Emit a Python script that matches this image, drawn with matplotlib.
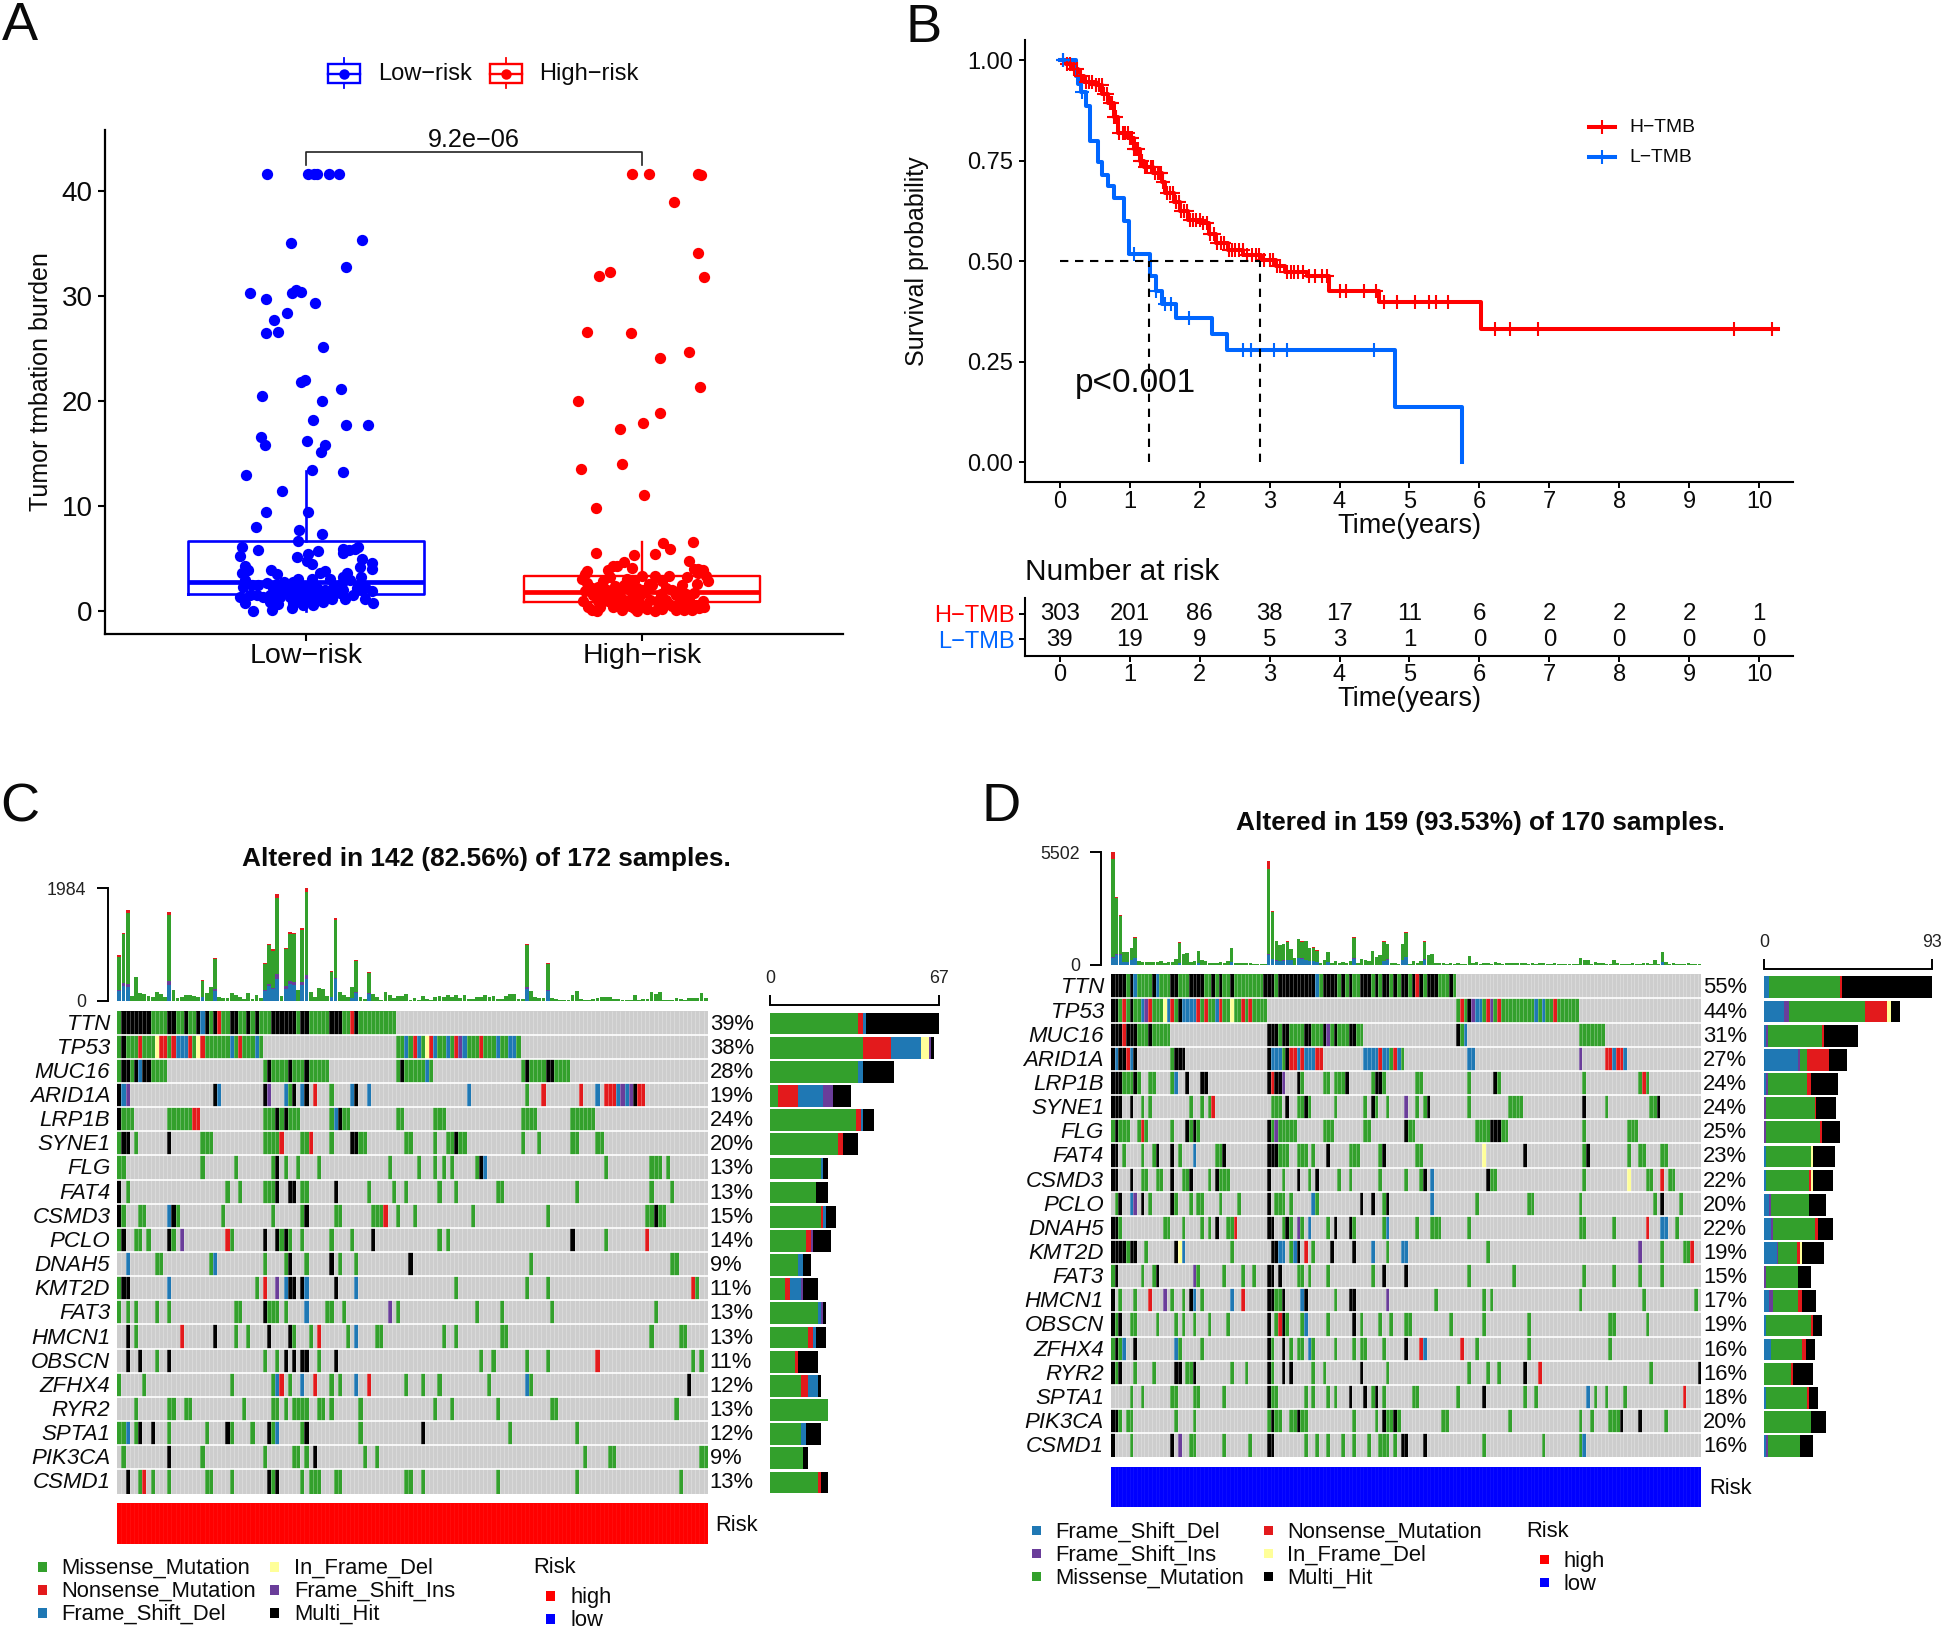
import numpy as np
import matplotlib
matplotlib.use('Agg')
import matplotlib.pyplot as plt
from matplotlib.colors import ListedColormap, BoundaryNorm
from matplotlib.patches import Rectangle

plt.rcParams['font.family'] = ['Liberation Sans', 'DejaVu Sans']

W, H = 1944, 1629
MINUS = '\u2212'

# ---- panel A data
box_low = dict(med=2.76, q1=1.65, q3=6.63, whislo=0.0, whishi=13.3, fliers=[])
box_high = dict(med=1.8, q1=0.85, q3=3.3, whislo=0.0, whishi=6.6, fliers=[])
low_pts = [(.884, 41.6), (1.007, 41.6), (1.024, 41.6), (1.032, 41.6), (1.068, 41.6), (1.097, 41.6), (1.167, 35.3),
           (.954, 35.0), (1.12, 32.8), (.834, 30.3), (.882, 29.7), (.959, 30.3), (.971, 30.6), (.985, 30.4),
           (1.026, 29.3), (.945, 28.4), (.904, 27.7), (.882, 26.5), (.918, 26.6), (1.051, 25.1), (.997, 22.0),
           (.986, 21.8), (1.103, 21.1), (.870, 20.5), (1.048, 20.0), (1.022, 18.2), (1.12, 17.7), (1.186, 17.7),
           (.867, 16.6), (1.002, 16.2), (.879, 15.8), (1.058, 15.8), (1.044, 15.1), (1.019, 13.4), (1.111, 13.2),
           (.821, 13.0), (.93, 11.4), (.882, 9.4), (1.007, 9.4), (.851, 8.0), (.98, 7.7), (1.048, 7.3), (.976, 6.7),
           (.809, 6.06), (.805, 5.27), (.856, 5.81), (.974, 5.14), (1.007, 5.43), (1.035, 5.71), (1.002, 4.76),
           (1.019, 4.48), (.818, 4.29), (.809, 3.65), (.828, 3.90), (.895, 3.90), (.913, 3.52), (1.042, 3.59),
           (1.057, 3.84), (1.111, 5.90), (1.109, 5.56), (1.129, 5.81), (1.146, 5.87), (1.156, 6.06), (1.166, 4.95),
           (1.195, 4.60), (1.197, 3.97), (1.161, 4.22), (1.123, 3.59), (1.111, 3.27), (1.164, 3.27), (1.071, 3.05),
           (1.017, 3.02), (.977, 3.05), (.962, 2.79), (.935, 2.79), (.913, 2.57), (.883, 2.63), (.858, 2.48),
           (.838, 2.44), (.818, 2.95), (.812, 2.32), (.804, 1.30), (.818, .79), (.843, .03), (.898, .10), (.918, .67),
           (.893, .89), (.959, .32), (.992, .57), (1.022, .57), (1.052, .89), (1.076, 1.11), (1.116, 1.11),
           (1.141, 1.52), (1.176, 1.11), (1.198, .79), (1.195, 1.94), (1.166, 2.0), (1.151, 2.16), (1.111, 2.0),
           (1.081, 2.16), (1.057, 2.0), (1.032, 2.16), (1.007, 2.32), (.982, 2.16), (.952, 2.16), (.928, 2.0),
           (.903, 2.16), (.873, 1.37), (.853, 1.52), (.833, 1.52), (.893, 1.52), (.913, 1.52), (.952, 1.37),
           (.972, 1.37), (.987, 1.21), (1.012, 1.37), (1.037, 1.37), (1.062, 1.52), (.962, .73), (.982, .89),
           (1.002, 1.05), (1.027, 1.05), (.992, 1.84), (1.017, 1.68), (.972, 1.84), (.942, 1.75), (.923, 1.37),
           (1.106, 2.63), (1.101, 1.68), (1.131, 2.95), (1.176, 2.25)]
high_pts = [(1.969, 41.6), (2.02, 41.6), (2.167, 41.6), (2.174, 41.5), (2.096, 38.9), (2.166, 34.1), (2.183, 31.8),
            (1.904, 32.3), (1.872, 31.9), (1.836, 26.6), (1.968, 26.5), (2.14, 24.7), (2.053, 24.1), (2.173, 21.3),
            (1.809, 20.0), (2.053, 18.9), (2.002, 17.9), (1.935, 17.3), (1.94, 14.0), (1.817, 13.5), (2.005, 11.1),
            (1.862, 9.8), (2.152, 6.6), (2.063, 6.5), (2.082, 5.9), (1.862, 5.5), (1.976, 5.3), (2.038, 5.4),
            (1.947, 4.7), (2.14, 4.8), (1.913, 4.3), (1.925, 4.25), (1.969, 4.1), (2.166, 4.0), (1.90, 3.9),
            (1.835, 3.8), (1.83, 3.55), (1.82, 3.05), (1.835, 2.7), (1.85, 2.2), (1.83, 1.9), (1.825, 1.0), (1.84, .4),
            (1.85, .1), (1.865, .05), (1.875, .4), (1.88, 1.3), (1.87, 2.3), (1.885, 2.9), (1.905, 3.2), (1.895, 2.0),
            (1.90, 1.0), (1.915, .35), (1.925, .7), (1.94, .1), (1.93, 1.6), (1.945, 2.5), (1.955, 3.1), (1.965, 2.2),
            (1.96, 1.0), (1.975, .3), (1.985, .05), (1.99, 1.3), (1.975, 2.9), (2.0, 3.3), (2.0, .6), (2.01, 1.8),
            (2.015, .2), (2.025, 1.1), (2.03, 2.5), (2.038, 3.3), (2.04, .0), (2.05, .55), (2.055, 1.6), (2.06, .2),
            (2.07, 1.1), (2.07, 2.2), (2.08, 3.3), (2.09, .5), (2.1, 1.5), (2.10, .1), (2.115, .9), (2.12, 2.5),
            (2.125, .15), (2.135, .45), (2.14, 1.1), (2.135, 3.2), (2.15, .15), (2.155, 1.7), (2.16, .6), (2.165, 2.6),
            (2.17, .3), (2.18, 1.0), (2.185, .35), (2.19, 3.3), (2.195, 2.85), (2.167, 3.6), (2.18, 3.95), (2.155, 4.0),
            (1.97, 1.7), (1.95, .55), (1.92, 2.4), (1.98, .85), (1.91, 1.4), (1.935, 2.0), (2.02, 2.6), (2.045, 1.0),
            (2.08, .7), (2.11, 1.9), (2.145, .7), (1.87, 1.0), (1.855, 1.5), (1.985, 2.2), (2.0, 2.0), (2.06, 2.9),
            (2.09, 2.0), (2.13, 1.6), (1.945, 1.1), (1.965, .5)]

# ---- panel B data
h_time = [0, .086, .172, .258, .344, .516, .602, .688, .775, .835, .972, 1.059, 1.145, 1.205, 1.334, 1.463, 1.506,
          1.635, 1.721, 1.833, 2.022, 2.134, 2.238, 2.41, 2.625, 2.883, 3.098, 3.227, 3.528, 3.847, 4.561, 6.024, 10.267]
h_surv = [1.0, .99, .978, .961, .946, .938, .915, .893, .858, .818, .807, .778, .75, .733, .718, .698, .67,
          .647, .624, .603, .595, .567, .544, .527, .515, .504, .487, .473, .464, .427, .398, .331, .331]
l_time = [0, .232, .26, .30, .37, .43, .54, .60, .69, .775, .92, .99, 1.29, 1.31, 1.377, 1.463, 1.66, 2.177, 2.384,
          4.793, 5.749, 5.749]
l_surv = [1.0, .961, .94, .921, .887, .80, .747, .715, .687, .658, .601, .519, .464, .464, .427, .393, .358, .319, .278,
          .138, .0, .0]
h_cens = [.05, .1, .14, .2, .24, .3, .37, .42, .46, .52, .56, .6, .63, .67, .72, .74, .78, .8, .85, .9, .93, .97, 1.0,
          1.03, 1.06, 1.09, 1.12, 1.15, 1.18, 1.22, 1.25, 1.3, 1.33, 1.36, 1.4, 1.43, 1.45, 1.48, 1.53, 1.58, 1.62, 1.66,
          1.7, 1.74, 1.78, 1.82, 1.86, 1.9, 1.95, 2.0, 2.05, 2.1, 2.15, 2.2, 2.25, 2.3, 2.35, 2.42, 2.46, 2.5, 2.56, 2.62,
          2.68, 2.75, 2.8, 2.85, 2.92, 3.0, 3.05, 3.1, 3.15, 3.25, 3.3, 3.35, 3.4, 3.48, 3.57, 3.65, 3.75, 3.82, 4.0,
          4.09, 4.35, 4.52, 4.64, 4.82, 5.08, 5.28, 5.38, 5.55, 6.22, 6.44, 6.84, 9.64, 10.18]
l_cens = [.04, .32, 1.06, 1.38, 1.5, 1.59, 1.85, 2.62, 2.74, 3.07, 3.25, 4.5]
years = list(range(11))
risk_h = [303, 201, 86, 38, 17, 11, 6, 2, 2, 2, 1]
risk_l = [39, 19, 9, 5, 3, 1, 0, 0, 0, 0, 0]

# ---- panels C and D data
genes = ['TTN', 'TP53', 'MUC16', 'ARID1A', 'LRP1B', 'SYNE1', 'FLG', 'FAT4', 'CSMD3', 'PCLO',
         'DNAH5', 'KMT2D', 'FAT3', 'HMCN1', 'OBSCN', 'ZFHX4', 'RYR2', 'SPTA1', 'PIK3CA', 'CSMD1']
pct_c = [39, 38, 28, 19, 24, 20, 13, 13, 15, 14, 9, 11, 13, 13, 11, 12, 13, 12, 9, 13]
pct_d = [55, 44, 31, 27, 24, 24, 25, 23, 22, 20, 22, 19, 15, 17, 19, 16, 16, 18, 20, 16]

# sample columns per gene: M missense, N nonsense, D frame del, Y in frame del, F frame ins, H multi hit
rows_c = [
    "0M 1-7H 8-11M 12-13H 14-15M 16H 17-18M 19H 20D 21H 22M 23H 24N 25-26M 27-28H 29-30M 31H 32M 33H 34-36M 37-42H 43M 44-45H 46-50M 51-53H 54-55M 56N 57H 58-66M",
    "0M 1H 2-4M 5N 6-8M 9Y 10-11N 12M 13N 14-16D 17N 18M 19Y 20N 21-26M 27D 28M 29N 30-32M 33D 34M 67-68M 69D 70M 71N 72D 73M 74Y 75N 76D 77-78M 79D 80M 81N 82F 83D 84-86M 87N 88-90M 91D 92-93M 94-95D 96M",
    "0M 1-2H 3M 4H 5D 6-7H 8-11M 35M 36H 37-40M 41H 42-44M 45H 46-50M 67M 68H 69-73M 74D 75M 97M 98H 99-102M 103-104H 105-108M",
    "0H 1D 2F 23H 24D 35H 36F 40D 41M 42H 44D 45H 47N 51M 56D 57H 60D 84D 98M 102N 111N 115D 117-119N 120D 121F 122D 123F 124H 125-126N",
    "0H 1-3M 12-17M 18-19N 35-37M 38H 39M 40H 41-43M 51M 52D 53H 54-55M 67-68M 76-78M 97-100M 109-114M",
    "0M 1-2H 4M 12H 20-22M 35-38M 39N 44-45M 46N 51M 56-57H 58-59M 69-70M 76M 79-80M 81H 82-83M 97M 101M 109-110M 115-116M",
    "0-1M 20M 28M 37M 38H 40M 43M 48M 65M 72M 76M 78M 80M 86M 87H 88D 117M 128-130M 132M",
    "0H 2M 26M 29M 35-37M 38H 41-42H 44-45M 52H 60M 66M 69M 77M 81M 91-92M 110M 128M 133M",
    "0H 1M 5-6M 12D 13H 14M 25M 37M 44M 45H 52-53M 61-63M 64N 67M 71M 85M 103M 127-128M 129H 130-131M",
    "0M 1H 4-5M 7M 12H 13M 15F 26N 27M 35H 38H 39M 40H 41M 44M 51M 56M 61H 77M 79M 109H 117M 127N",
    "2D 9-10M 22M 23D 35M 40M 41H 45M 51H 53M 57M 70H 99M 133-134M",
    "0M 1-2H 12D 33M 35N 38F 40D 41-42H 44H 45D 52H 57D 81M 98M 103M 138N 139M",
    "0M 2M 4M 9M 12M 28-29M 35H 36-38M 40M 45D 50-51M 54M 65F 67M 86M 92M 104M 129M",
    "2H 4M 15N 23H 28M 31M 36H 41H 42M 46M 48N 55M 57D 62-63M 78M 81M 92-93M 128M 135-136M",
    "2H 5H 9M 12H 35M 38M 40H 42H 44-45H 48M 52H 87M 90M 98M 103M 115N 138M 140M",
    "0M 6M 27M 37M 38D 39N 41M 44D 47N 51M 53M 57D 60N 69M 73M 77M 89M 98D 99M 137H",
    "4M 12-13M 16-17M 30M 37-38M 40M 42-45M 48-49M 51M 58M 76M 80M 91M 104-105M 134M",
    "0-1M 2D 4M 5H 8H 12M 21M 26H 27M 32M 36H 37M 38D 44M 45H 58M 73H 94M 110M",
    "1M 12H 20M 35M 42-43M 45M 47H 59M 62M 112M 118-119M 140-141M",
    "2H 5M 6N 8M 12M 21-22M 27M 36H 37M 38H 44M 46-48M 52-53M 69-70M 73M 91M 110M 135M",
]
rows_d = [
    "0-3H 4M 5H 6D 7-10M 11H 12D 13-15M 16-17H 18-20M 21-24H 25-26M 27H 28M 29H 30-31M 32H 33-40M 41-43H 44M 45-54H 55D 56M 57-60H 61M 62H 63M 64H 65-66M 67-69H 70M 71H 72M 73-74H 75M 76H 77M 78-79H 80M 81H 82N 83H 84M 85-87H 88-90M 91H 92M",
    "0-1H 2M 3N 4M 5H 6-7M 8D 9F 10N 11-13M 14Y 15D 16N 17M 18H 19-22D 23N 24M 25N 26-27M 28D 29N 30-31M 32Y 33-34M 35N 36M 37N 38-41M 93M 94N 95M 96H 97F 98-99D 100M 101N 102F 103M 104N 105-113M 114D 115M 116D 117-118M 119N 120-125M",
    "0-2H 3N 4-6H 7-9M 10H 11-15M 42-44H 45M 46-47H 48-51M 52-53H 54-56M 57H 58F 59M 60H 61-63M 64-65H 66-67M 93H 94M 95D 126-132M",
    "0H 1D 2-3H 4N 5D 6H 16M 17-19H 42H 43-45D 46M 47H 48-49N 50D 51N 52-54D 55-56N 68-71D 72N 73-74D 75M 76N 77D 78M 96-97D 126F 133-134N 135D 136-137N 138D",
    "0-2H 3-5M 6H 7M 10-11M 16M 17D 20H 24-25H 42H 43N 44-45H 46F 50H 51M 57-58M 60-62M 63H 70M 71-72H 73M 82-83M 96M 103H 104M 127M 142M 143N 144M",
    "0-2H 5H 8M 10M 21M 24M 26M 27N 43-45M 47H 50-51M 52H 53M 60M 68M 70H 71M 74M 79F 82M 84M 85H 96M 107-110M 127H 133M 145-146M 147H",
    "0M 1H 2-4M 7M 8N 9M 16M 20H 21M 22H 23M 42H 43M 44F 45-49M 57-59M 68-69M 79H 80-81M 98-101M 102-104H 105-106M 127M 139-141M",
    "0-1H 3M 8M 11M 12H 16H 18M 22D 28-29M 30H 42-44H 45-47M 50-52M 54M 58H 64-66M 72M 73H 82-83M 100Y 111H 127M 128H 139M 142-143M 148-149M",
    "0-1H 5H 8-9M 12-13M 16H 19-20M 21H 26M 28H 29-31M 42H 46M 50H 53M 55H 61M 64M 72M 79M 83M 84H 86D 101H 102-103M 127M 139Y 144-145M 148N 150-151M",
    "1M 2H 5D 6F 8H 10M 16H 17M 21M 23-24M 29M 34M 42H 44-46M 48M 54D 55M 67H 70H 73M 74H 86D 98M 112-113M 126M 146M 148H 153M",
    "0-1H 2M 14-15M 19M 24M 26M 28H 31-32M 33N 42-43H 46M 47H 48M 50F 51M 53D 58M 60H 64H 65M 73M 74D 82M 86-88M 96M 126-127M 135M 144N 148-149D 152M",
    "0-3H 4M 5-6H 9M 17H 18Y 19D 32M 43-44H 45-46D 48M 49D 50H 52N 54M 59H 65H 70D 74M 78-79D 101M 142F 148M 154-155M 156N",
    "0M 1H 8M 11M 12H 22F 23M 30M 35M 38M 42-43H 45H 50-51M 53M 58M 70M 73H 79H 96M 108M 127M 135M 142M 148M",
    "0H 2M 6M 10N 14F 16M 19M 21H 22D 24M 32D 35N 42-43H 44-45M 46H 51D 52H 60M 64-65H 74F 87M 100M 102M 126M 143M 157M",
    "0H 1M 2H 5-6M 12M 17M 19M 22M 26M 31M 42H 44M 45N 46H 47M 51M 52D 58M 65H 67M 72M 75M 79-80M 91M 100M 112M 134-135M 144M",
    "0M 1H 2M 3D 6H 17D 18M 24M 42H 43M 46H 48M 50-51M 53D 54M 60M 65M 67-68M 73M 79H 83N 84D 94N 98M 112M 134M",
    "0H 1M 2H 6M 11M 17-18H 20-21M 22H 32M 36M 42H 43M 46H 48H 54M 57M 67H 74M 96M 101M 104M 111H 115N 145M 158H",
    "5M 8M 16-17M 22-23M 30M 42H 43-44M 52M 54M 58M 60M 64H 68H 70M 71H 73M 81-82M 93M 100H 111M 114M 128D 130M 133M 138M 154N",
    "0-1H 2M 4-5M 17M 22M 42M 43H 44-45M 48-49M 50H 51-52M 65M 71M 73H 74-75M 76H 77M 89-90M 107M 126M 129M 134-136M 137H 142H 149M",
    "0H 5M 16H 18F 21-22M 30M 37M 42-43H 52M 55M 58M 62M 65M 69M 72-74M 76M 78-79H 84H 100M 116M 126M 127D",
]

# stacked side bars, counts per mutation class
side_c = dict(
    M=[35, 37, 35, 3, 34, 27, 20, 18, 20, 14, 11, 6, 19, 15, 10, 12, 23, 12, 13, 19],
    N=[2, 11, 0, 8, 2, 2, 0, 0, 1, 2, 0, 2, 0, 2, 1, 3, 0, 0, 0, 1],
    D=[1, 12, 2, 10, 1, 0, 1, 0, 1, 0, 2, 4, 1, 1, 0, 4, 0, 2, 0, 0],
    Y=[0, 3, 0, 0, 0, 0, 0, 0, 0, 0, 0, 0, 0, 0, 0, 0, 0, 0, 0, 0],
    F=[0, 1, 0, 4, 0, 0, 0, 0, 0, 1, 0, 1, 1, 0, 0, 0, 0, 0, 0, 0],
    H=[29, 1, 12, 7, 4, 6, 2, 5, 4, 7, 3, 6, 1, 4, 8, 1, 0, 6, 2, 3],
)
side_d = dict(
    D=[3, 11, 1, 19, 1, 0, 0, 1, 1, 3, 4, 7, 0, 3, 1, 4, 0, 1, 0, 1],
    F=[0, 3, 1, 1, 1, 1, 1, 0, 0, 1, 1, 1, 1, 2, 0, 0, 0, 0, 0, 1],
    M=[39, 42, 30, 4, 22, 27, 30, 25, 24, 21, 23, 10, 18, 14, 25, 17, 15, 23, 26, 18],
    N=[1, 12, 1, 12, 2, 1, 1, 0, 1, 0, 2, 2, 0, 2, 1, 2, 1, 1, 0, 0],
    Y=[0, 2, 0, 0, 0, 0, 0, 1, 1, 0, 0, 1, 0, 0, 0, 0, 0, 0, 0, 0],
    H=[50, 5, 19, 10, 15, 11, 10, 12, 11, 9, 8, 12, 7, 8, 5, 5, 11, 5, 8, 7],
)
order_c = ['M', 'N', 'D', 'Y', 'F', 'H']
order_d = ['D', 'F', 'M', 'N', 'Y', 'H']

# mutation load per sample (top bars)
load_c = [804, 1203, 1608, 88, 411, 129, 117, 82, 59, 147, 117, 70, 1573, 194, 47, 70, 100, 106, 82, 70, 364, 129, 247,
          751, 59, 47, 47, 141, 100, 70, 35, 141, 35, 100, 41, 669, 1004, 910, 1878, 88, 933, 1221, 1203, 194, 1285, 1984,
          158, 59, 223, 205, 82, 528, 1468, 147, 106, 70, 247, 716, 59, 35, 505, 117, 59, 18, 147, 106, 47, 76, 76, 117,
          18, 47, 12, 76, 35, 18, 70, 82, 59, 94, 59, 100, 53, 106, 35, 24, 70, 70, 94, 59, 76, 24, 35, 82, 117, 117, 35,
          35, 998, 176, 59, 47, 47, 657, 47, 24, 18, 18, 12, 106, 176, 24, 18, 6, 29, 41, 59, 59, 59, 24, 24, 12, 6, 6,
          94, 18, 24, 35, 147, 117, 153, 12, 6, 6, 41, 24, 6, 41, 47, 41, 129, 41]
spike_c = [0, 1, 2, 12, 20, 23, 35, 36, 37, 38, 40, 41, 42, 44, 45, 51, 52, 56, 57, 60, 98, 103]
spike_c_del = [164, 264, 235, 282, 59, 176, 164, 264, 205, 382, 205, 294, 282, 282, 382, 70, 382, 47, 129, 117, 205, 164]
spike_c_ins = [23, 47, 59, 59, 0, 29, 23, 23, 23, 88, 47, 59, 47, 47, 70, 0, 18, 0, 18, 18, 29, 29]
spike_c_non = [35, 29, 59, 59, 18, 23, 18, 23, 29, 70, 23, 35, 23, 35, 59, 18, 35, 0, 23, 18, 18, 12]

load_d = [5502, 3305, 2442, 602, 602, 814, 1351, 195, 147, 130, 130, 130, 114, 195, 81, 147, 147, 260, 1091, 521, 586,
          147, 195, 684, 212, 163, 98, 65, 65, 130, 65, 195, 814, 65, 65, 65, 65, 65, 33, 33, 49, 49, 5079, 2637, 1172,
          977, 1009, 1140, 765, 326, 1270, 1140, 1172, 814, 847, 700, 81, 228, 619, 81, 195, 81, 114, 98, 195, 1335, 65,
          260, 228, 195, 651, 391, 488, 1140, 1009, 65, 98, 49, 1026, 1595, 49, 195, 81, 163, 1140, 456, 521, 98, 81, 98,
          49, 81, 49, 65, 49, 49, 440, 65, 130, 49, 81, 65, 49, 114, 65, 49, 81, 65, 98, 65, 81, 98, 49, 65, 49, 81, 65,
          49, 33, 65, 33, 33, 49, 49, 33, 49, 326, 244, 228, 49, 114, 65, 65, 49, 33, 228, 98, 49, 33, 49, 65, 33, 49, 65,
          65, 33, 212, 49, 619, 114, 49, 65, 49, 33, 49, 65, 33, 33, 33]
spike_d = [0, 1, 2, 3, 4, 5, 6, 18, 23, 32, 42, 43, 44, 45, 46, 47, 48, 50, 51, 52, 53, 54, 55, 58, 65, 73, 74, 78, 79, 84, 148]
spike_d_del = [326, 456, 488, 114, 130, 228, 326, 81, 81, 130, 456, 260, 195, 195, 195, 228, 228, 326, 293, 228, 163, 195,
               130, 130, 293, 163, 244, 228, 358, 244, 130]
spike_d_ins = [65, 65, 49, 0, 0, 16, 16, 0, 0, 0, 49, 16, 16, 0, 16, 16, 16, 16, 16, 0, 16, 0, 0, 0, 16, 16, 16, 16, 16, 16, 0]
spike_d_non = [358, 49, 49, 0, 0, 16, 49, 16, 16, 16, 423, 49, 16, 16, 16, 16, 16, 16, 16, 16, 16, 16, 16, 0, 33, 16, 16, 16, 49, 16, 16]

mut_classes = ['M', 'N', 'D', 'Y', 'F', 'H']
mut_color = dict(M='#33A02C', N='#E31A1C', D='#1F78B4', Y='#FFFF99', F='#6A3D9A', H='#000000')
grey = '#CDCDCD'
mut_name = dict(M='Missense_Mutation', N='Nonsense_Mutation', D='Frame_Shift_Del', Y='In_Frame_Del',
                F='Frame_Shift_Ins', H='Multi_Hit')
INK = '#0A0A0A'


def px_axes(x0, y0, x1, y1):
    return fig.add_axes([x0 / W, 1 - y1 / H, (x1 - x0) / W, (y1 - y0) / H])


def parse_rows(rows, n):
    mat = np.zeros((len(rows), n), dtype=int)
    for r, row in enumerate(rows):
        for tok in row.split():
            code = mut_classes.index(tok[-1]) + 1
            parts = tok[:-1].split('-')
            a, b = int(parts[0]), int(parts[-1])
            mat[r, a:b + 1] = code
    return mat


def oncoplot(x0, x1, top_y0, top_y1, grid_y0, grid_y1, risk_y0, risk_y1, bar_x0, bar_x1, bar_axis_gap,
             rows, load, spike, s_del, s_ins, s_non, load_max, side, order, bar_max, pct, risk_color):
    n = len(load)
    # top stacked bars
    ax = px_axes(x0, top_y0, x1, top_y1)
    load = np.array(load, float)
    dele = np.zeros(n)
    ins = np.zeros(n)
    non = np.zeros(n)
    dele[spike] = s_del
    ins[spike] = s_ins
    non[spike] = s_non
    mis = np.maximum(load - dele - ins - non, 0)
    xs = np.arange(n) + 0.5
    bot = np.zeros(n)
    for vals, c in [(dele, 'D'), (ins, 'F'), (mis, 'M'), (non, 'N')]:
        ax.bar(xs, vals, bottom=bot, width=0.92, color=mut_color[c], linewidth=0)
        bot = bot + vals
    ax.set_xlim(0, n)
    ax.set_ylim(0, load_max)
    for s in ['top', 'right', 'bottom']:
        ax.spines[s].set_visible(False)
    ax.spines['left'].set_position(('outward', 7))
    ax.spines['left'].set_linewidth(1.4)
    ax.set_xticks([])
    ax.set_yticks([0, load_max])
    ax.tick_params(axis='y', length=8.2, width=1.4, pad=7, labelsize=12.8, labelcolor='#222222')

    # mutation grid
    ax = px_axes(x0, grid_y0, x1, grid_y1)
    mat = parse_rows(rows, n)
    cmap = ListedColormap([grey] + [mut_color[c] for c in mut_classes])
    norm = BoundaryNorm(np.arange(-0.5, 7.5), cmap.N)
    ax.pcolormesh(np.arange(n + 1), np.arange(21), mat, cmap=cmap, norm=norm, linewidth=0)
    ax.vlines(np.arange(1, n), 0, 20, color='white', lw=0.6, alpha=0.3)
    ax.hlines(np.arange(1, 20), 0, n, color='white', lw=1.2)
    ax.set_xlim(0, n)
    ax.set_ylim(20, 0)
    ax.axis('off')

    # labels either side of the grid
    row_h = (grid_y1 - grid_y0) / 20
    for i, g in enumerate(genes):
        y = grid_y0 + (i + 0.5) * row_h + 1.5
        txt.text(x0 - 7, y, g, ha='right', va='center', style='italic', fontsize=16, color=INK)
        txt.text(x1 + 2, y, f'{pct[i]}%', ha='left', va='center', fontsize=15.8, color=INK)

    # side stacked bars
    ax = px_axes(bar_x0, grid_y0, bar_x1, grid_y1)
    left = np.zeros(20)
    ys = np.arange(20) + 0.54
    for c in order:
        ax.barh(ys, side[c], left=left, height=0.9, color=mut_color[c], linewidth=0)
        left = left + np.array(side[c])
    ax.set_xlim(0, bar_max)
    ax.set_ylim(20, 0)
    for s in ['left', 'right', 'bottom']:
        ax.spines[s].set_visible(False)
    ax.spines['top'].set_position(('outward', bar_axis_gap))
    ax.spines['top'].set_linewidth(1.4)
    ax.set_yticks([])
    ax.xaxis.tick_top()
    ax.set_xticks([0, bar_max])
    ax.tick_params(axis='x', length=7, width=1.4, pad=6, labelsize=12.8, labelcolor='#222222')

    # risk ribbon
    ax = px_axes(x0, risk_y0, x1, risk_y1)
    ax.bar(xs, np.ones(n), width=1.0, color=risk_color, linewidth=0)
    ax.vlines(np.arange(1, n), 0, 1, color='white', lw=0.5, alpha=0.07)
    ax.set_xlim(0, n)
    ax.set_ylim(0, 1)
    ax.axis('off')
    txt.text(x1 + 8, (risk_y0 + risk_y1) / 2 + 1.5, 'Risk', ha='left', va='center', fontsize=15.8, color=INK)


def legend_square(x, y, color):
    txt.add_patch(Rectangle((x, y - 4.7), 9.4, 9.4, facecolor=color, edgecolor='none'))


def legend_text(x, y, label):
    txt.text(x, y + 1.5, label, fontsize=15.8, ha='left', va='center', color=INK)


fig = plt.figure(figsize=(W / 100, H / 100), dpi=100, facecolor='white')
txt = fig.add_axes([0, 0, 1, 1], zorder=10)
txt.set_xlim(0, W)
txt.set_ylim(H, 0)
txt.axis('off')

# panel letters
for letter, lx, ly in [('A', 2, 26), ('B', 905, 28), ('C', 0, 807), ('D', 981, 807)]:
    txt.text(lx, ly, letter, fontsize=39, ha='left', va='center', color=INK)

# ---- A: box + jitter
ax = px_axes(105, 130, 843, 633.7)
ax.bxp([box_low], positions=[1], widths=0.7, showcaps=False, showfliers=False,
       boxprops=dict(color='#0000FF', lw=1.9), whiskerprops=dict(color='#0000FF', lw=1.9),
       medianprops=dict(color='#0000FF', lw=3.4))
ax.bxp([box_high], positions=[2], widths=0.7, showcaps=False, showfliers=False,
       boxprops=dict(color='#FF0000', lw=1.7), whiskerprops=dict(color='#FF0000', lw=1.7),
       medianprops=dict(color='#FF0000', lw=3.4))
ax.scatter([p[0] for p in low_pts], [p[1] for p in low_pts], s=66, color='#0000FF', linewidth=0, zorder=3)
ax.scatter([p[0] for p in high_pts], [p[1] for p in high_pts], s=66, color='#FF0000', linewidth=0, zorder=3)
ax.plot([1, 1, 2, 2], [42.5, 43.7, 43.7, 42.5], color='#222222', lw=1.2)
ax.text(1.5, 43.75, '9.2e' + MINUS + '06', ha='center', va='bottom', fontsize=18.2, color=INK)
ax.set_xlim(0.402, 2.598)
ax.set_ylim(-2.15, 45.8)
ax.set_xticks([1, 2])
ax.set_xticklabels(['Low' + MINUS + 'risk', 'High' + MINUS + 'risk'], fontsize=20.5, color=INK)
ax.set_yticks([0, 10, 20, 30, 40])
ax.tick_params(axis='y', labelsize=20, length=5, width=1.5, pad=4, labelcolor=INK)
ax.tick_params(axis='x', length=5, width=1.5, pad=2)
ax.set_ylabel('Tumor tmbation burden', fontsize=18, labelpad=6, color=INK)
ax.spines['top'].set_visible(False)
ax.spines['right'].set_visible(False)
ax.spines['left'].set_linewidth(1.6)
ax.spines['bottom'].set_linewidth(1.6)

# A legend
for gx, col, lab, tx in [(328, '#0000FF', 'Low' + MINUS + 'risk', 378), (490, '#FF0000', 'High' + MINUS + 'risk', 539)]:
    txt.plot([gx + 16, gx + 16], [58, 88], color=col, lw=1.3, zorder=0)
    txt.add_patch(Rectangle((gx, 64), 32, 19, facecolor='white', edgecolor=col, lw=1.7))
    txt.plot([gx, gx + 32], [73.5, 73.5], color=col, lw=1.7)
    txt.plot([gx + 16], [73.5], 'o', color=col, ms=7.5, mew=0)
    txt.text(tx, 74, lab, fontsize=17, ha='left', va='center', color=INK)

# ---- B: survival curves
ax = px_axes(1025.3, 40, 1793.4, 482.3)
ax.step(h_time, h_surv, where='post', color='#FF0000', lw=2.9)
ax.step(l_time, l_surv, where='post', color='#0066FF', lw=2.9)
h_idx = np.searchsorted(h_time, h_cens, side='right') - 1
l_idx = np.searchsorted(l_time, l_cens, side='right') - 1
ax.plot(h_cens, np.array(h_surv)[h_idx], '+', color='#FF0000', ms=10, mew=1.5)
ax.plot(l_cens, np.array(l_surv)[l_idx], '+', color='#0066FF', ms=10, mew=1.5)
ax.plot([0, 2.866], [0.5, 0.5], color='black', lw=1.5, ls=(0, (4, 3.2)))
ax.plot([1.282, 1.282], [0, 0.5], color='black', lw=1.5, ls=(0, (4, 3.2)))
ax.plot([2.866, 2.866], [0, 0.5], color='black', lw=1.5, ls=(0, (4, 3.2)))
ax.text(0.215, 0.195, 'p<0.001', fontsize=24, ha='left', va='center', color=INK)
ax.set_xlim(-0.493, 10.49)
ax.set_ylim(-0.05, 1.05)
ax.set_xticks(years)
ax.set_yticks([0, .25, .5, .75, 1])
ax.set_yticklabels(['0.00', '0.25', '0.50', '0.75', '1.00'])
ax.tick_params(axis='both', labelsize=17, length=4.5, width=1.4, labelcolor=INK)
ax.tick_params(axis='x', pad=2)
ax.tick_params(axis='y', pad=4)
ax.set_xlabel('Time(years)', fontsize=19.5, labelpad=0, color=INK)
ax.set_ylabel('Survival probability', fontsize=18, labelpad=28, color=INK)
ax.spines['top'].set_visible(False)
ax.spines['right'].set_visible(False)
ax.spines['left'].set_linewidth(1.5)
ax.spines['bottom'].set_linewidth(1.5)

# B legend
for ly, col, lab in [(127, '#FF0000', 'H' + MINUS + 'TMB'), (157, '#0066FF', 'L' + MINUS + 'TMB')]:
    txt.plot([1589, 1615], [ly, ly], color=col, lw=2.9)
    txt.plot([1602], [ly], '+', color=col, ms=10, mew=1.5)
    txt.text(1629, ly, lab, fontsize=13.9, ha='left', va='center', color=INK)

# B risk table
ax = px_axes(1025.3, 598.3, 1793.4, 655.7)
ax.set_xlim(-0.493, 10.49)
ax.set_ylim(2.0, 0)
for t, a, b in zip(years, risk_h, risk_l):
    ax.text(t, 0.55, str(a), ha='center', va='center', fontsize=17.3, color=INK)
    ax.text(t, 1.47, str(b), ha='center', va='center', fontsize=17.3, color=INK)
ax.set_xticks(years)
ax.set_yticks([0.53, 1.43])
ax.set_yticklabels(['H' + MINUS + 'TMB', 'L' + MINUS + 'TMB'])
ax.get_yticklabels()[0].set_color('#FF0000')
ax.get_yticklabels()[1].set_color('#0066FF')
ax.tick_params(axis='y', labelsize=17, length=4.5, width=1.4, pad=3)
ax.tick_params(axis='x', labelsize=17, length=4.5, width=1.4, pad=1.5, labelcolor=INK)
ax.set_xlabel('Time(years)', fontsize=19.5, labelpad=0, color=INK)
ax.spines['top'].set_visible(False)
ax.spines['right'].set_visible(False)
ax.spines['left'].set_linewidth(1.5)
ax.spines['bottom'].set_linewidth(1.5)
txt.text(1025.3, 572, 'Number at risk', fontsize=21.5, ha='left', va='center', color=INK)

# ---- C
txt.text(486.5, 859, 'Altered in 142 (82.56%) of 172 samples.', fontsize=18.9, fontweight='bold', ha='center',
         va='center', color=INK)
oncoplot(117.3, 707.7, 888.3, 1000.7, 1010.5, 1493.5, 1503.3, 1544, 770.3, 939, 4,
         rows_c, load_c, spike_c, spike_c_del, spike_c_ins, spike_c_non, 1984, side_c, order_c, 67, pct_c, '#FF0000')
for i, c in enumerate(['M', 'N', 'D']):
    legend_square(38, 1567 + i * 23, mut_color[c])
    legend_text(61, 1567 + i * 23, mut_name[c])
for i, c in enumerate(['Y', 'F', 'H']):
    legend_square(270, 1567 + i * 23, mut_color[c])
    legend_text(294, 1567 + i * 23, mut_name[c])
legend_text(533, 1566, 'Risk')
for y, c, lab in [(1596, '#FF0000', 'high'), (1619, '#0000FF', 'low')]:
    legend_square(546, y, c)
    legend_text(570, y, lab)

# ---- D
txt.text(1480, 823, 'Altered in 159 (93.53%) of 170 samples.', fontsize=18.9, fontweight='bold', ha='center',
         va='center', color=INK)
oncoplot(1111, 1701.3, 852, 964.7, 974.3, 1457.3, 1466.7, 1507.3, 1764, 1932.3, 3.6,
         rows_d, load_d, spike_d, spike_d_del, spike_d_ins, spike_d_non, 5502, side_d, order_d, 93, pct_d, '#0000FF')
for i, c in enumerate(['D', 'F', 'M']):
    legend_square(1031.7, 1530.5 + i * 23, mut_color[c])
    legend_text(1055, 1530.5 + i * 23, mut_name[c])
for i, c in enumerate(['N', 'Y', 'H']):
    legend_square(1263.5, 1530.5 + i * 23, mut_color[c])
    legend_text(1287, 1530.5 + i * 23, mut_name[c])
legend_text(1526.7, 1530, 'Risk')
for y, c, lab in [(1559.5, '#FF0000', 'high'), (1582.5, '#0000FF', 'low')]:
    legend_square(1540, y, c)
    legend_text(1563.5, y, lab)

fig.savefig('out.png', dpi=100, facecolor='white')
